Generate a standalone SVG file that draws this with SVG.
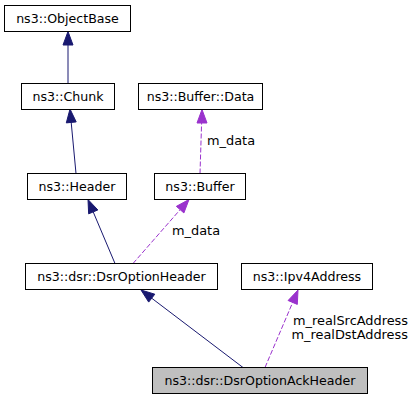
<svg xmlns="http://www.w3.org/2000/svg" width="416" height="400" viewBox="0 0 416 400">
<style>
.box{fill:#ffffff;stroke:#000000;stroke-width:1}
.cur{fill:#bfbfbf;stroke:#000000;stroke-width:1}
text{font-family:"DejaVu Sans",Verdana,sans-serif;font-size:12.6px;fill:#000000}
.lbl{font-size:12.9px}
.c{text-anchor:middle}
.inh{stroke:#191970;stroke-width:1;fill:none}
.inhh{fill:#191970;stroke:#191970}
.use{stroke:#9a32cd;stroke-width:1;stroke-dasharray:5,2;fill:none}
.useh{fill:#9a32cd;stroke:#9a32cd}
</style>
<rect width="416" height="400" fill="#ffffff"/>
<g id="connectors">
<line class="inh" x1="68" y1="83.5" x2="68" y2="45"/>
<polygon class="inhh" points="68,31.5 63,45 73,45"/>
<line class="inh" x1="76" y1="173.5" x2="71.2" y2="122.4"/>
<polygon class="inhh" points="70,109 76.2,121.9 66.3,122.9"/>
<line class="use" x1="200" y1="173.5" x2="201.6" y2="123"/>
<polygon class="useh" points="202,109.5 197,123 207,123"/>
<text class="lbl" x="207" y="145">m_data</text>
<line class="inh" x1="115" y1="263.5" x2="93.2" y2="211.9"/>
<polygon class="inhh" points="88,199.5 97.85,209.95 88.65,213.85"/>
<line class="use" x1="133" y1="263.5" x2="180.1" y2="209.7"/>
<polygon class="useh" points="189,199.5 183.9,212.95 176.35,206.37"/>
<text class="lbl" x="172" y="235">m_data</text>
<line class="inh" x1="243" y1="367.5" x2="151.7" y2="298.2"/>
<polygon class="inhh" points="141,290 154.8,294.2 148.7,302.1"/>
<line class="use" x1="265" y1="367.5" x2="292.7" y2="302.4"/>
<polygon class="useh" points="298,290 297.3,304.4 288.1,300.5"/>
<text class="lbl" x="293" y="325">m_realSrcAddress</text>
<text class="lbl" x="291.5" y="339">m_realDstAddress</text>
</g>
<g id="objectbase"><rect class="box" x="4.5" y="5.5" width="126" height="26"/><text class="c" x="67.5" y="23">ns3::ObjectBase</text></g>
<g id="chunk"><rect class="box" x="21.5" y="83.5" width="93" height="26"/><text class="c" x="68" y="101">ns3::Chunk</text></g>
<g id="bufferdata"><rect class="box" x="138.5" y="83.5" width="124" height="26"/><text class="c" x="200.5" y="101">ns3::Buffer::Data</text></g>
<g id="header"><rect class="box" x="27.5" y="173.5" width="99" height="26"/><text class="c" x="77" y="191">ns3::Header</text></g>
<g id="buffer"><rect class="box" x="154.5" y="173.5" width="91" height="26"/><text class="c" x="200" y="191">ns3::Buffer</text></g>
<g id="dsroptionheader"><rect class="box" x="25.5" y="263.5" width="192" height="26"/><text class="c" x="121.5" y="281">ns3::dsr::DsrOptionHeader</text></g>
<g id="ipv4address"><rect class="box" x="241.5" y="263.5" width="131" height="26"/><text class="c" x="307" y="281">ns3::Ipv4Address</text></g>
<g id="dsroptionackheader"><rect class="cur" x="152.5" y="367.5" width="215" height="26"/><text class="c" x="260" y="385">ns3::dsr::DsrOptionAckHeader</text></g>
</svg>
